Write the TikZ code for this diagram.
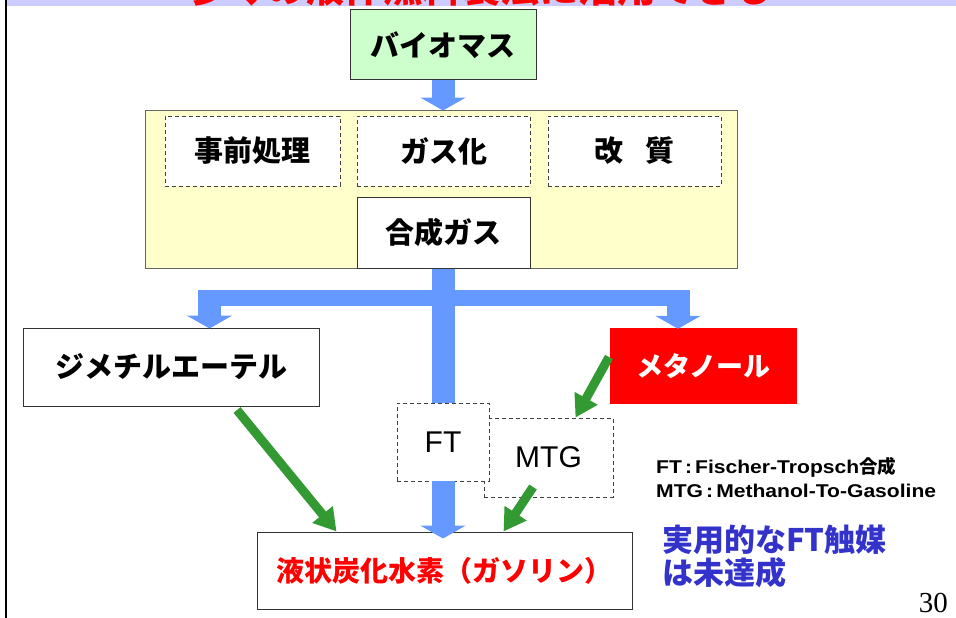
\documentclass[tikz,border=0pt]{standalone}
\usepackage{fontspec}
\setmainfont{Liberation Serif}
\newfontfamily\jp{Noto Sans CJK JP}
\newfontfamily\lsans{Liberation Sans}
\newfontfamily\legfont{Liberation Sans}[FakeStretch=1.14]
\usetikzlibrary{arrows.meta,calc}
\definecolor{flowblue}{HTML}{6699FF}
\definecolor{arrgreen}{HTML}{339933}
\definecolor{boxgreen}{HTML}{CCFFCC}
\definecolor{boxyellow}{HTML}{FFFFCC}
\definecolor{bandcol}{HTML}{CCCCFF}
\definecolor{txtblue}{HTML}{3333CC}
\begin{document}
\begin{tikzpicture}[x=1pt,y=-1pt,
  solidbox/.style={draw=black!80, line width=1pt, inner sep=0pt, fill=white,
    font=\jp\bfseries\fontsize{29}{32}\selectfont},
  dashbox/.style={draw=black!75, dash pattern=on 4pt off 3pt, line width=0.9pt,
    inner sep=0pt, fill=white, font=\jp\bfseries\fontsize{29}{32}\selectfont},
  flowarrow/.style={draw=flowblue, line width=23pt,
    -{Triangle[width=45pt,length=13pt]}},
  flowshaft/.style={draw=flowblue, line width=23pt},
  greenarrow/.style={draw=arrgreen, line width=9pt,
    -{Triangle[width=25pt,length=22pt]}}]
\useasboundingbox (0,0) rectangle (956,618);

% top band with clipped title
\fill[bandcol] (7,0) rectangle (956,6);
\begin{scope}
  \clip (7,0) rectangle (956,6);
  \node[anchor=base west, inner sep=0pt, text=red,
    font=\jp\bfseries\fontsize{39}{42}\selectfont] (title) at (188,3)
    {多くの液体燃料製法に活用できる};
\end{scope}
\draw[line width=2pt] (6,0) -- (6,618);

% boxes
\node[solidbox, fill=boxgreen, minimum width=186pt, minimum height=70pt] (bio) at (443,45) {バイオマス};
\node[draw=black!60, line width=1pt, fill=boxyellow, minimum width=592pt, minimum height=158pt, inner sep=0pt] (proc) at (441,189) {};
\node[dashbox, minimum width=175pt, minimum height=70pt] (pre) at (252.5,151) {事前処理};
\node[dashbox, minimum width=173pt, minimum height=70pt] (gas) at (443.5,151) {ガス化};
\node[dashbox, minimum width=173pt, minimum height=70pt] (kai) at (634.5,151) {改\hspace{0.75em}質};
\node[solidbox, minimum width=173pt, minimum height=71pt] (gousei) at (443.5,232.5) {合成ガス};
\node[solidbox, minimum width=296pt, minimum height=78pt] (dme) at (171,367) {ジメチルエーテル};
\node[fill=red, minimum width=187pt, minimum height=76pt, inner sep=0pt, text=white,
  font=\jp\bfseries\fontsize{27}{30}\selectfont] (meth) at (703.5,366) {メタノール};
\node[solidbox, minimum width=375pt, minimum height=77pt, text=red,
  font=\jp\bfseries\fontsize{28}{30}\selectfont] (liquid) at (444.5,570.5) {液状炭化水素（ガソリン）};

% blue flow
\coordinate (jl) at (198,298);
\coordinate (jr) at (690,298);
\coordinate (bl) at (209.5,290);
\coordinate (br) at (678,290);
\draw[flowarrow] (bio.south) -- ($(bio.south |- proc.north)+(0,1)$);
\draw[flowshaft, line width=16pt] (jl) -- (jr);
\draw[flowarrow] (bl) -- ($(bl |- dme.north)+(0,1)$);
\draw[flowarrow] (br) -- ($(br |- meth.north)+(0,1)$);

% FT / MTG
\node[dashbox, minimum width=129pt, minimum height=79pt,
  font=\lsans\fontsize{30}{32}\selectfont] (mtg) at (548.5,457.5) {\raisebox{-4pt}{MTG}};
\coordinate (ftn) at (443.5,403);
\draw[flowshaft] (gousei.south) -- (ftn);
\node[dashbox, minimum width=92pt, minimum height=78pt,
  font=\lsans\fontsize{30}{32}\selectfont] (ft) at (443,442) {FT};
\draw[flowarrow] (ft.south) -- ($(ft.south |- liquid.north)+(0,7)$);

% green arrows
\coordinate (g1) at (237,410);
\coordinate (g2) at (609,357);
\coordinate (g3) at (533,487);
\draw[greenarrow] (g1) -- ($(liquid.north west)+(80,0)$);
\draw[greenarrow] (g2) -- ($(mtg.north)+(27,0)$);
\draw[greenarrow] (g3) -- ($(liquid.north west)+(247,0)$);

% legend
\node[anchor=base west, inner sep=0pt, font=\legfont\bfseries\fontsize{18.5}{20}\selectfont] (leg1) at (656,473)
  {FT\,:\,Fischer-Tropsch{\jp 合成}};
\node[anchor=base west, inner sep=0pt, font=\legfont\bfseries\fontsize{18.5}{20}\selectfont] (leg2) at (656,497)
  {MTG\,:\,Methanol-To-Gasoline};
\node[anchor=west, inner sep=0pt, text=txtblue, align=left,
  font=\jp\bfseries\fontsize{31}{33}\selectfont] (note) at (662,556)
  {実用的なFT触媒\\は未達成};
\node[anchor=base east, inner sep=0pt, font=\fontsize{29}{31}\selectfont] (page) at (948,612) {30};
\end{tikzpicture}
\end{document}
